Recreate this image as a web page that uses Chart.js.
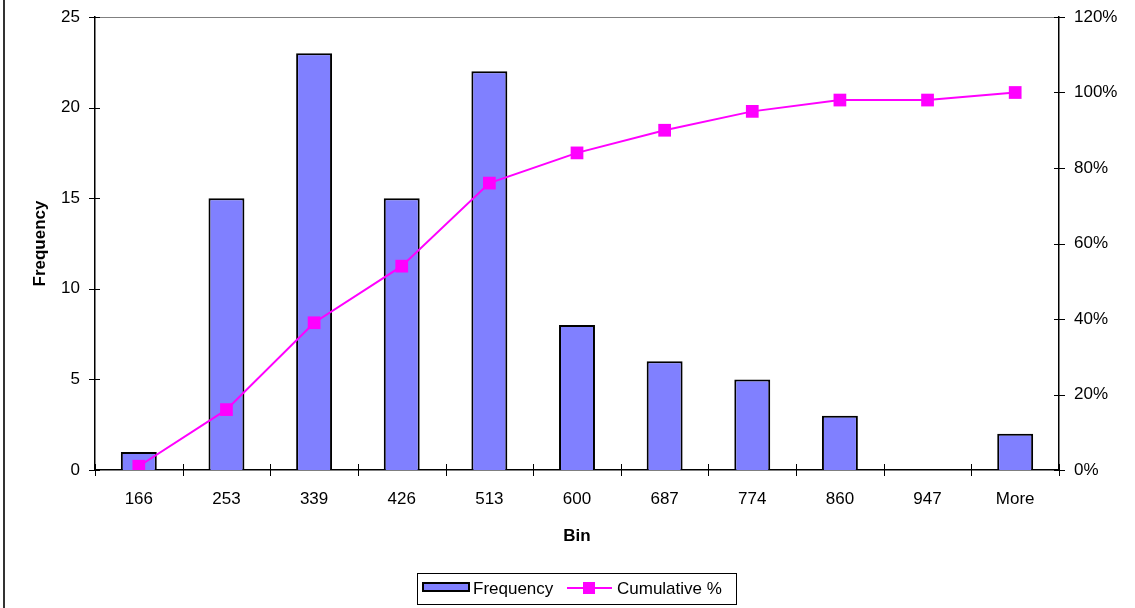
<!DOCTYPE html>
<html>
<head>
<meta charset="utf-8">
<script src="https://cdn.jsdelivr.net/npm/chart.js@4/dist/chart.umd.min.js"></script>
<style>
  html, body { margin: 0; padding: 0; background: #fff; }
  #wrap { width: 1135px; height: 608px; position: relative; }
</style>
</head>
<body>
<div id="wrap"><canvas id="c" width="1135" height="608"></canvas></div>
<script>
// Histogram bins and counts, with the running cumulative percentage
const bins = ['166', '253', '339', '426', '513', '600', '687', '774', '860', '947', 'More'];
const frequency = [1, 15, 23, 15, 22, 8, 6, 5, 3, 0, 2];
const cumulativePct = [1, 16, 39, 54, 76, 84, 90, 95, 98, 98, 100];

// Axis tick values
const freqTicks = [0, 5, 10, 15, 20, 25];
const pctTicks = [0, 20, 40, 60, 80, 100, 120];

const FONT = 'Arial, "Liberation Sans", sans-serif';
const BAR_FILL = '#8080FF';
const LINE_COLOR = '#FF00FF';

// Cross-style tick marks on all three axes, plot border, chart frame and legend box
const excelDecor = {
  id: 'excelDecor',
  beforeDatasetsDraw(chart) {
    const { ctx, chartArea: a } = chart;
    ctx.save();
    ctx.strokeStyle = '#808080';
    ctx.lineWidth = 1;
    ctx.beginPath();
    ctx.moveTo(a.left, a.top + 0.5);
    ctx.lineTo(a.right, a.top + 0.5);
    ctx.stroke();
    ctx.restore();
  },
  afterDraw(chart) {
    const { ctx, chartArea: a, scales } = chart;
    ctx.save();
    ctx.strokeStyle = '#000';
    ctx.lineWidth = 1;
    ctx.beginPath();
    // left axis ticks
    scales.y.ticks.forEach(t => {
      const y = Math.round(scales.y.getPixelForValue(t.value)) + 0.5;
      ctx.moveTo(a.left - 6, y); ctx.lineTo(a.left + 5, y);
    });
    // right axis ticks
    scales.yPct.ticks.forEach(t => {
      const y = Math.round(scales.yPct.getPixelForValue(t.value)) + 0.5;
      ctx.moveTo(a.right - 5, y); ctx.lineTo(a.right + 6, y);
    });
    // category boundary ticks
    for (let i = 0; i <= bins.length; i++) {
      const x = Math.round(scales.x.getPixelForValue(i - 0.5)) + 0.5;
      ctx.moveTo(x, a.bottom - 6); ctx.lineTo(x, a.bottom + 6);
    }
    ctx.stroke();

    // outer chart frame (left edge)
    ctx.strokeStyle = '#333';
    ctx.lineWidth = 2;
    ctx.beginPath();
    ctx.moveTo(4, 0); ctx.lineTo(4, chart.height);
    ctx.stroke();

    // legend
    const bar = chart.data.datasets[0];
    const line = chart.data.datasets[1];
    ctx.lineWidth = 1;
    ctx.strokeStyle = '#000';
    ctx.fillStyle = '#fff';
    ctx.fillRect(417, 573, 319, 31);
    ctx.strokeRect(417.5, 573.5, 319, 31);

    ctx.fillStyle = bar.backgroundColor;
    ctx.fillRect(423, 583, 46, 8);
    ctx.lineWidth = 2;
    ctx.strokeRect(423, 583, 46, 8);

    ctx.strokeStyle = line.borderColor;
    ctx.lineWidth = 2;
    ctx.beginPath();
    ctx.moveTo(567, 588); ctx.lineTo(612, 588);
    ctx.stroke();
    ctx.fillStyle = line.pointBackgroundColor;
    ctx.fillRect(583, 582, 12, 12);

    ctx.fillStyle = '#000';
    ctx.font = '17px ' + FONT;
    ctx.textBaseline = 'middle';
    ctx.textAlign = 'left';
    ctx.fillText(bar.label, 473, 589);
    ctx.fillText(line.label, 617, 589);
    ctx.restore();
  }
};

new Chart(document.getElementById('c'), {
  type: 'bar',
  data: {
    labels: bins,
    datasets: [
      {
        type: 'bar',
        label: 'Frequency',
        data: frequency,
        yAxisID: 'y',
        backgroundColor: BAR_FILL,
        borderColor: '#000',
        borderWidth: 2,
        barPercentage: 0.41,
        categoryPercentage: 1.0,
        order: 2
      },
      {
        type: 'line',
        label: 'Cumulative %',
        data: cumulativePct,
        yAxisID: 'yPct',
        borderColor: LINE_COLOR,
        borderWidth: 2,
        pointStyle: 'rect',
        pointRadius: 9,
        pointBorderWidth: 0,
        pointBackgroundColor: LINE_COLOR,
        tension: 0,
        order: 1
      }
    ]
  },
  options: {
    responsive: false,
    animation: false,
    events: [],
    layout: { padding: { top: 17, left: 0, right: 0, bottom: 0 } },
    plugins: { legend: { display: false }, tooltip: { enabled: false } },
    scales: {
      x: {
        offset: true,
        grid: { display: false, drawTicks: false, offset: true },
        border: { display: true, color: '#000', width: 1.5 },
        ticks: { color: '#000', font: { family: FONT, size: 17 }, padding: 19, maxRotation: 0, autoSkip: false },
        title: { display: true, text: 'Bin', color: '#000', font: { family: FONT, size: 17, weight: 'bold' }, padding: { top: 0, bottom: 61 } },
        afterFit(s) { s.height = 138; s.paddingLeft = 0; s.paddingRight = 0; }
      },
      y: {
        position: 'left',
        min: 0, max: 25,
        afterBuildTicks(s) { s.ticks = freqTicks.map(v => ({ value: v })); },
        grid: { display: false, drawTicks: false },
        border: { display: true, color: '#000', width: 1.5 },
        ticks: { color: '#000', font: { family: FONT, size: 17 }, padding: 15 },
        title: { display: true, text: 'Frequency', color: '#000', font: { family: FONT, size: 17, weight: 'bold' }, padding: { top: 30, bottom: 0 } },
        afterFit(s) { s.width = 95; s.paddingTop = 0; s.paddingBottom = 0; }
      },
      yPct: {
        position: 'right',
        min: 0, max: 120,
        afterBuildTicks(s) { s.ticks = pctTicks.map(v => ({ value: v })); },
        grid: { display: false, drawTicks: false },
        border: { display: true, color: '#000', width: 1.5 },
        ticks: { color: '#000', font: { family: FONT, size: 17 }, padding: 15, callback: v => v + '%' },
        afterFit(s) { s.width = 76; s.paddingTop = 0; s.paddingBottom = 0; }
      }
    }
  },
  plugins: [excelDecor]
});
</script>
</body>
</html>
